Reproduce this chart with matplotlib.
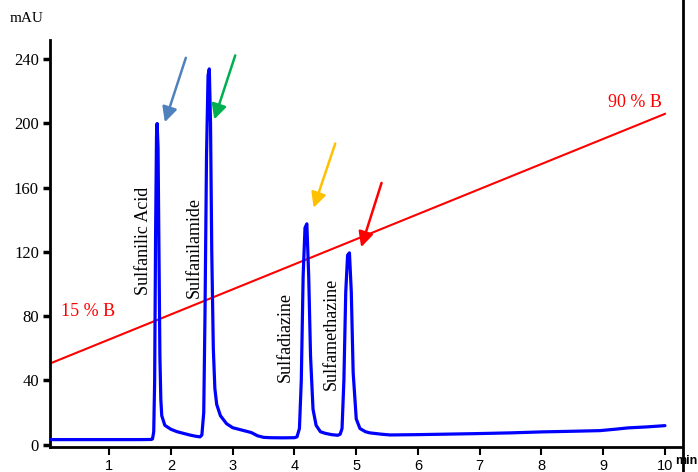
import matplotlib
matplotlib.use("Agg")
import matplotlib.pyplot as plt
from matplotlib.lines import Line2D

# chromatogram trace (min, mAU)
time = [0.05, 0.5, 1.0, 1.5, 1.68, 1.70, 1.72, 1.735, 1.75, 1.765, 1.775, 1.79, 1.805, 1.82, 1.835, 1.85,
        1.90, 2.0, 2.1, 2.2, 2.3, 2.4, 2.47, 2.50, 2.53, 2.55, 2.575, 2.60, 2.62, 2.64, 2.66, 2.685,
        2.71, 2.74, 2.80, 2.9, 3.0, 3.1, 3.2, 3.3, 3.4, 3.5, 3.6, 3.8, 4.0, 4.04, 4.08, 4.11,
        4.14, 4.17, 4.20, 4.23, 4.26, 4.30, 4.35, 4.42, 4.5, 4.6, 4.70, 4.74, 4.77, 4.80, 4.83, 4.86,
        4.89, 4.92, 4.95, 5.0, 5.06, 5.15, 5.22, 5.4, 5.55, 6.0, 6.9, 7.5, 8.0, 8.5, 8.95, 9.2, 9.4,
        9.7, 10.0]
mau = [3.1, 3.1, 3.1, 3.1, 3.2, 3.5, 8, 40, 130, 192, 200, 185, 120, 55, 28, 18,
       12, 9.5, 8, 7, 6, 5.2, 4.8, 6, 20, 80, 180, 230, 234, 200, 120, 60,
       35, 25, 18, 13, 10.5, 9.5, 8.5, 7.5, 5.5, 4.5, 4.3, 4.2, 4.3, 4.8, 10, 40,
       105, 135, 137.5, 105, 55, 22, 12, 8, 7, 6.2, 5.8, 6.5, 10, 40, 95, 118,
       119.4, 95, 45, 16, 10, 8, 7.3, 6.5, 6, 6.2, 6.8, 7.3, 7.9, 8.3, 8.7, 9.6, 10.4,
       11, 11.8]

# gradient line (%B shown as a line on the mAU scale)
grad_t = [0.04, 10.0]
grad_v = [50.5, 206]

compounds = ["Sulfanilic Acid", "Sulfanilamide", "Sulfadiazine", "Sulfamethazine"]
label_t = [1.55, 2.37, 3.85, 4.59]
label_v = [127, 123, 67, 69]

arrow_tip = [(1.90, 200.8), (2.70, 202.5), (4.31, 147.5), (5.08, 123)]
arrow_tail = [(2.24, 240.9), (3.04, 242.4), (4.66, 187.5), (5.41, 163)]
arrow_colors = ["#4f81bd", "#00b050", "#ffc000", "#ff0000"]

xticks = [1, 2, 3, 4, 5, 6, 7, 8, 9, 10]
yticks = [0, 40, 80, 120, 160, 200, 240]

serif = "Liberation Serif"
sans = "Liberation Sans"

fig = plt.figure(figsize=(6.98, 4.72), dpi=100)
ax = fig.add_axes([50/698, 25/472, 631/698, 407/472])

ax.plot(grad_t, grad_v, color="#ff0000", lw=1.5, zorder=2)
ax.plot(time, mau, color="#0000ff", lw=2.3, zorder=3, solid_joinstyle="round", solid_capstyle="round")

for name, t, v in zip(compounds, label_t, label_v):
    ax.text(t, v, name, rotation=90, ha="center", va="center", fontsize=13, family=serif)

for tip, tail, c in zip(arrow_tip, arrow_tail, arrow_colors):
    ax.annotate("", xy=tip, xytext=tail,
                arrowprops=dict(arrowstyle="-|>,head_length=0.9,head_width=0.45", color=c, lw=1.8,
                                shrinkA=0, shrinkB=0))

ax.text(0.22, 83, "15 % B", color="#ff0000", fontsize=13, family=serif, ha="left", va="center")
ax.text(9.95, 213, "90 % B", color="#ff0000", fontsize=13, family=serif, ha="right", va="center")

ax.set_xlim(0.04, 10.26)
ax.set_ylim(-1.5, 252)
ax.set_xticks(xticks)
ax.set_yticks(yticks)
ax.set_xticklabels([str(t) for t in xticks], family=sans, fontsize=10.5)
ax.set_yticklabels([str(t) for t in yticks], family=serif, fontsize=12)
ax.tick_params(axis="y", direction="out", length=5, width=2.5, pad=3)
ax.tick_params(axis="x", direction="out", length=6, width=1.5, pad=3)
for s in ["top", "right"]:
    ax.spines[s].set_visible(False)
ax.spines["left"].set_linewidth(2)
ax.spines["bottom"].set_linewidth(2)

fig.text(27/698, 1 - 18/472, "mAU", family=serif, fontsize=11, ha="center", va="center")
fig.add_artist(Line2D([683/698, 683/698], [0, 1], transform=fig.transFigure, color="black", lw=2))
fig.text(697/698, 1 - 461/472, "min", family=sans, fontsize=9, fontweight="bold", ha="right", va="center")

fig.savefig("out.png", dpi=100)
